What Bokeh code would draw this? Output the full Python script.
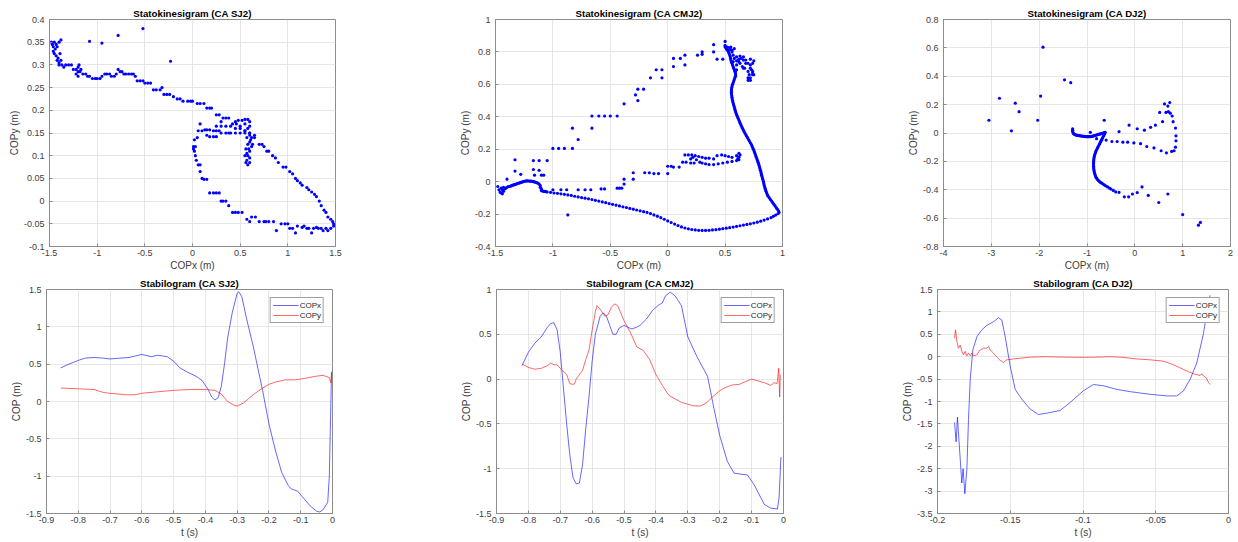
from bokeh.plotting import figure
from bokeh.layouts import column, row
from bokeh.models import Range1d, FixedTicker, Legend, LegendItem
from bokeh.embed import file_html
from bokeh.resources import INLINE

FONT = "Liberation Sans"
BLUE = "#0000ff"
RED = "#ff0000"

# ---------------- data ----------------
SJ2_POINTS = [
    (-1.48, 0.35), (-1.47, 0.345), (-1.46, 0.34), (-1.45, 0.35), (-1.44, 0.335), (-1.46, 0.33), (-1.43, 0.345),
    (-1.42, 0.34), (-1.40, 0.35), (-1.38, 0.355), (-1.45, 0.325), (-1.43, 0.32), (-1.41, 0.315), (-1.39, 0.325),
    (-1.42, 0.31), (-1.40, 0.305), (-1.38, 0.31), (-1.40, 0.30), (-1.37, 0.30), (-1.35, 0.295), (-1.33, 0.30),
    (-1.30, 0.30), (-1.27, 0.30), (-1.25, 0.29), (-1.22, 0.29), (-1.20, 0.295), (-1.19, 0.30), (-1.18, 0.285),
    (-1.20, 0.285), (-1.17, 0.29), (-1.22, 0.28), (-1.15, 0.28), (-1.12, 0.28), (-1.10, 0.275), (-1.08, 0.275),
    (-1.05, 0.27), (-1.02, 0.27), (-1.00, 0.27), (-0.97, 0.27), (-0.95, 0.275), (-0.92, 0.28), (-0.90, 0.28),
    (-0.87, 0.28), (-0.85, 0.275), (-0.82, 0.275), (-0.80, 0.28), (-0.78, 0.29), (-0.76, 0.285), (-0.74, 0.285),
    (-0.72, 0.28), (-0.70, 0.28), (-0.67, 0.28), (-0.64, 0.28), (-0.62, 0.28), (-0.60, 0.275), (-0.58, 0.265),
    (-0.55, 0.265), (-0.52, 0.265), (-0.50, 0.26), (-0.47, 0.26), (-0.44, 0.26), (-0.41, 0.245), (-0.38, 0.245),
    (-0.34, 0.245), (-0.32, 0.25), (-0.30, 0.235), (-0.27, 0.235), (-0.24, 0.235), (-0.20, 0.23), (-0.16, 0.225),
    (-0.13, 0.225), (-0.10, 0.22), (-0.05, 0.22), (-0.02, 0.22), (0.00, 0.22), (0.05, 0.215), (0.08, 0.215),
    (0.12, 0.215), (0.15, 0.205), (0.18, 0.205), (0.20, 0.205), (0.25, 0.19), (0.28, 0.19), (0.32, 0.183),
    (0.35, 0.183), (0.38, 0.183), (0.42, 0.17), (0.46, 0.17), (0.50, 0.165),
    (0.55, 0.155), (0.60, 0.145), (0.65, 0.14), (0.70, 0.125), (0.73, 0.125), (0.75, 0.12), (0.78, 0.11),
    (0.80, 0.11), (0.84, 0.10), (0.87, 0.095), (0.90, 0.085), (0.95, 0.075), (0.98, 0.075), (1.02, 0.065),
    (1.05, 0.06), (1.08, 0.05), (1.10, 0.045), (1.13, 0.04), (1.15, 0.035), (1.20, 0.03), (1.22, 0.025),
    (1.25, 0.02), (1.28, 0.015), (1.30, 0.01), (1.33, 0.0), (1.35, -0.01), (1.38, -0.02), (1.40, -0.025),
    (1.42, -0.035), (1.45, -0.04), (1.47, -0.045), (1.48, -0.05),
    (1.48, -0.055), (1.45, -0.06), (1.42, -0.065), (1.40, -0.06), (1.37, -0.065), (1.35, -0.06), (1.32, -0.06),
    (1.30, -0.058), (1.27, -0.06), (1.25, -0.07), (1.22, -0.06), (1.20, -0.06), (1.17, -0.055), (1.15, -0.058),
    (1.10, -0.055), (1.08, -0.07), (1.05, -0.06), (1.02, -0.06), (1.00, -0.05), (0.97, -0.05), (0.93, -0.05),
    (0.88, -0.065), (0.85, -0.045), (0.80, -0.045), (0.77, -0.045), (0.75, -0.045), (0.70, -0.045), (0.66, -0.035),
    (0.62, -0.035), (0.60, -0.045), (0.57, -0.04), (0.52, -0.025), (0.48, -0.025), (0.45, -0.025), (0.42, -0.025),
    (0.38, -0.01), (0.35, 0.0), (0.32, 0.0), (0.30, 0.0), (0.28, 0.018), (0.25, 0.018), (0.22, 0.018),
    (0.18, 0.018), (0.15, 0.048), (0.12, 0.048), (0.10, 0.05), (0.08, 0.065), (0.08, 0.08), (0.06, 0.08),
    (0.04, 0.09), (0.03, 0.10), (0.02, 0.11), (0.01, 0.115), (0.01, 0.12), (0.03, 0.12), (0.02, 0.135),
    (0.05, 0.14), (0.06, 0.155), (0.10, 0.155), (0.13, 0.157), (0.15, 0.157), (0.18, 0.157), (0.22, 0.155),
    (0.25, 0.155), (0.28, 0.155), (0.30, 0.15), (0.35, 0.15), (0.38, 0.15), (0.40, 0.15), (0.45, 0.15),
    (0.50, 0.15), (0.55, 0.15), (0.60, 0.15), (0.65, 0.145), (0.15, 0.145), (0.18, 0.142), (0.22, 0.142),
    (0.25, 0.142), (0.08, 0.17), (0.25, 0.165), (0.30, 0.165), (0.35, 0.165), (0.40, 0.165), (0.30, 0.175),
    (0.45, 0.175), (0.48, 0.178), (0.52, 0.178), (0.45, 0.16), (0.50, 0.16),
    (0.55, 0.18), (0.58, 0.18), (0.60, 0.175), (0.55, 0.17), (0.60, 0.165), (0.58, 0.16), (0.55, 0.155),
    (0.60, 0.15), (0.62, 0.14), (0.57, 0.14), (0.60, 0.13), (0.58, 0.125), (0.62, 0.12), (0.56, 0.115),
    (0.60, 0.11), (0.58, 0.10), (0.55, 0.10), (0.60, 0.095), (0.57, 0.09), (0.56, 0.085), (0.60, 0.085),
    (0.58, 0.08), (0.63, 0.125), (0.59, 0.115), (0.57, 0.105), (0.61, 0.135),
    (-0.52, 0.38), (-0.78, 0.365), (-0.95, 0.348), (-1.08, 0.352), (-0.23, 0.308), (-1.20, 0.275),
]

CMJ2_POINTS = [
    (-1.48, -0.03), (-1.47, -0.05), (-1.46, -0.065), (-1.45, -0.07), (-1.44, -0.075), (-1.45, -0.04),
    (-1.44, -0.05), (-1.43, -0.06), (-1.43, -0.035), (-1.42, -0.045), (-1.41, -0.04), (-1.40, -0.035),
    (-1.39, -0.03), (-1.38, -0.03), (-1.37, -0.028), (-1.36, -0.025), (-1.35, -0.022), (-1.34, -0.02),
    (-1.33, -0.017), (-1.32, -0.015), (-1.31, -0.012), (-1.30, -0.01), (-1.29, -0.008), (-1.28, -0.005),
    (-1.27, -0.003), (-1.26, 0.0), (-1.25, 0.002), (-1.24, 0.003), (-1.23, 0.005), (-1.22, 0.005),
    (-1.21, 0.004), (-1.20, 0.003), (-1.19, 0.003), (-1.18, 0.002), (-1.17, 0.0), (-1.16, -0.002),
    (-1.15, -0.004), (-1.14, -0.006), (-1.13, -0.01), (-1.12, -0.015), (-1.11, -0.025), (-1.11, -0.035),
    (-1.10, -0.045), (-1.10, -0.055), (-1.09, -0.058), (-1.08, -0.06), (-1.07, -0.06), (-1.06, -0.062),
    (-1.05, -0.064), (-1.02, -0.066), (-0.99, -0.07), (-0.96, -0.072), (-0.93, -0.075), (-0.90, -0.078),
    (-0.87, -0.082), (-0.84, -0.085), (-0.81, -0.09), (-0.78, -0.094), (-0.75, -0.098), (-0.72, -0.102),
    (-0.69, -0.106), (-0.66, -0.11), (-0.63, -0.115), (-0.60, -0.12), (-0.57, -0.125), (-0.54, -0.13),
    (-0.51, -0.135), (-0.48, -0.14), (-0.45, -0.145), (-0.42, -0.15), (-0.39, -0.155), (-0.36, -0.16),
    (-0.33, -0.165), (-0.30, -0.17), (-0.27, -0.175), (-0.24, -0.18), (-0.21, -0.185), (-0.18, -0.19),
    (-0.15, -0.197), (-0.12, -0.205), (-0.09, -0.213), (-0.06, -0.222), (-0.03, -0.232), (0.00, -0.242),
    (0.03, -0.252), (0.06, -0.262), (0.09, -0.271), (0.12, -0.279), (0.15, -0.286), (0.18, -0.291),
    (0.21, -0.295), (0.24, -0.298), (0.27, -0.30), (0.30, -0.301), (0.33, -0.301), (0.36, -0.30),
    (0.39, -0.298), (0.42, -0.296), (0.45, -0.293), (0.48, -0.29), (0.51, -0.287), (0.54, -0.284),
    (0.57, -0.28), (0.60, -0.276), (0.63, -0.272), (0.66, -0.268), (0.69, -0.264), (0.72, -0.26),
    (0.75, -0.255), (0.78, -0.25), (0.81, -0.244), (0.84, -0.237), (0.87, -0.23), (0.90, -0.222),
    (0.92, -0.214), (0.94, -0.206), (0.96, -0.198), (0.97, -0.19), (0.965, -0.18), (0.955, -0.17),
    (0.945, -0.16), (0.935, -0.15), (0.925, -0.14), (0.915, -0.13), (0.905, -0.12), (0.895, -0.11),
    (0.885, -0.10), (0.875, -0.09), (0.868, -0.08), (0.862, -0.07), (0.857, -0.06), (0.852, -0.05),
    (0.848, -0.04), (0.844, -0.03), (0.84, -0.02), (0.837, -0.01), (0.834, 0.0), (0.83, 0.01),
    (0.826, 0.02), (0.822, 0.03), (0.818, 0.04), (0.815, 0.05), (0.812, 0.06), (0.808, 0.07),
    (0.804, 0.08), (0.80, 0.09), (0.796, 0.10), (0.792, 0.11), (0.787, 0.12), (0.782, 0.13),
    (0.777, 0.14), (0.772, 0.15), (0.767, 0.16), (0.762, 0.17), (0.757, 0.18), (0.752, 0.19),
    (0.746, 0.20), (0.74, 0.21), (0.734, 0.22), (0.728, 0.23), (0.72, 0.24), (0.712, 0.25),
    (0.704, 0.26), (0.696, 0.27), (0.688, 0.28), (0.68, 0.29), (0.672, 0.30), (0.665, 0.31),
    (0.658, 0.32), (0.651, 0.33), (0.644, 0.34), (0.638, 0.35), (0.632, 0.36), (0.626, 0.37),
    (0.62, 0.38), (0.614, 0.39), (0.608, 0.40), (0.602, 0.41), (0.597, 0.42), (0.592, 0.43),
    (0.588, 0.44), (0.584, 0.45), (0.58, 0.46), (0.576, 0.47), (0.572, 0.48), (0.568, 0.49),
    (0.565, 0.50), (0.562, 0.51), (0.56, 0.52), (0.558, 0.53), (0.556, 0.54), (0.555, 0.55),
    (0.555, 0.56), (0.556, 0.57), (0.558, 0.58), (0.561, 0.59), (0.565, 0.60), (0.57, 0.61),
    (0.575, 0.62), (0.58, 0.63), (0.585, 0.64), (0.59, 0.65), (0.592, 0.66), (0.59, 0.67),
    (0.585, 0.68), (0.58, 0.69), (0.575, 0.70), (0.57, 0.71), (0.565, 0.72), (0.56, 0.73),
    (0.555, 0.74), (0.55, 0.75), (0.548, 0.76), (0.545, 0.77), (0.54, 0.78), (0.535, 0.79),
    (0.53, 0.80), (0.52, 0.81), (0.51, 0.82), (0.50, 0.83), (0.52, 0.83), (0.54, 0.825), (0.55, 0.815),
    (0.56, 0.81), (0.50, 0.865), (0.50, 0.84), (0.53, 0.81), (0.56, 0.80), (0.57, 0.78), (0.58, 0.76),
    (0.60, 0.745), (0.57, 0.74), (0.60, 0.72), (0.62, 0.755), (0.62, 0.74), (0.63, 0.73), (0.60, 0.77),
    (0.64, 0.76), (0.66, 0.75), (0.68, 0.75), (0.70, 0.73), (0.72, 0.72), (0.75, 0.745), (0.73, 0.69),
    (0.75, 0.66), (0.74, 0.68), (0.71, 0.66), (0.70, 0.64), (0.72, 0.625), (0.67, 0.70), (0.65, 0.71),
    (0.60, 0.69), (0.59, 0.68),
    (-1.33, 0.135), (-1.33, 0.065), (-1.28, 0.045), (-1.40, 0.015), (-1.17, 0.13), (-1.12, 0.13),
    (-1.05, 0.13), (-1.17, 0.075), (-1.12, 0.07), (-1.10, 0.04), (-1.16, 0.04), (-1.08, 0.04),
    (-1.00, 0.205), (-0.95, 0.205), (-0.90, 0.205), (-0.83, 0.205), (-0.83, 0.33), (-0.78, 0.26),
    (-0.66, 0.33), (-0.66, 0.405), (-0.60, 0.405), (-0.55, 0.405), (-0.50, 0.405), (-0.44, 0.405),
    (-0.38, 0.48), (-0.28, 0.535), (-0.26, 0.50), (-0.26, 0.57), (-0.21, 0.57), (-0.15, 0.64),
    (-0.10, 0.69), (-0.05, 0.69), (-0.05, 0.64), (0.05, 0.71), (0.05, 0.76), (0.11, 0.76),
    (0.15, 0.78), (0.15, 0.72), (0.26, 0.78), (0.30, 0.785), (0.30, 0.80), (0.40, 0.80),
    (0.40, 0.845), (0.43, 0.755), (0.48, 0.755), (0.55, 0.83), (0.58, 0.82), (0.63, 0.775),
    (0.66, 0.77), (0.72, 0.755), (0.74, 0.73), (0.68, 0.73), (0.72, 0.70), (0.66, 0.70),
    (0.70, 0.68), (0.74, 0.67), (0.74, 0.66), (0.72, 0.64), (0.70, 0.625),
    (-1.10, -0.05), (-1.00, -0.05), (-0.93, -0.05), (-0.88, -0.05), (-0.78, -0.05), (-0.72, -0.05),
    (-0.67, -0.05), (-0.58, -0.045), (-0.55, -0.045), (-0.44, -0.04), (-0.42, -0.04), (-0.40, -0.04),
    (-0.38, 0.015), (-0.38, -0.015), (-0.30, 0.055), (-0.30, 0.015), (-0.20, 0.055), (-0.16, 0.055),
    (-0.12, 0.05), (-0.08, 0.05), (0.00, 0.05), (0.00, 0.095), (0.03, 0.095), (0.05, 0.09),
    (0.10, 0.09), (0.13, 0.12), (0.16, 0.12), (0.20, 0.115), (0.23, 0.115), (-0.87, -0.205),
    (0.15, 0.165), (0.18, 0.165), (0.21, 0.165), (0.24, 0.16), (0.27, 0.155), (0.30, 0.15),
    (0.33, 0.145), (0.36, 0.145), (0.40, 0.14), (0.43, 0.16), (0.47, 0.165), (0.50, 0.16),
    (0.53, 0.155), (0.56, 0.15), (0.60, 0.16), (0.62, 0.175), (0.63, 0.165), (0.62, 0.15),
    (0.61, 0.14), (0.28, 0.12), (0.30, 0.115), (0.33, 0.11), (0.36, 0.105), (0.40, 0.105),
    (0.44, 0.11), (0.48, 0.115), (0.52, 0.12), (0.56, 0.125), (0.60, 0.13), (0.62, 0.135),
    (0.25, 0.135), (0.20, 0.14), (0.22, 0.15),
]

DJ2_POINTS = [
    (-3.05, 0.09), (-2.83, 0.245), (-2.58, 0.015), (-2.50, 0.21), (-2.42, 0.15), (-2.03, 0.09),
    (-1.97, 0.26), (-1.92, 0.605), (-1.47, 0.375), (-1.34, 0.355), (-0.64, 0.09), (-0.93, 0.005),
    (-0.33, 0.01), (-0.12, 0.055), (0.05, 0.03), (0.20, 0.02), (0.33, 0.04), (0.43, 0.055),
    (0.52, 0.145), (0.58, 0.08), (0.62, 0.205), (0.65, 0.145), (0.69, 0.19), (0.70, 0.15),
    (0.73, 0.215), (0.74, 0.14), (0.78, 0.12), (0.80, 0.08), (0.85, 0.035), (0.86, -0.02),
    (0.86, -0.055), (0.85, -0.10), (0.82, -0.125), (0.77, -0.13), (0.66, -0.14), (0.55, -0.125),
    (0.40, -0.105), (0.25, -0.095), (0.12, -0.075), (-0.02, -0.07), (-0.15, -0.065), (-0.25, -0.065),
    (-0.37, -0.06), (-0.48, -0.06), (-0.60, -0.05), (-0.70, -0.05), (-0.80, -0.04),
    (-1.30, 0.03), (-1.30, 0.02), (-1.30, 0.01), (-1.29, 0.0), (-1.28, -0.005), (-1.26, -0.01),
    (-1.24, -0.013), (-1.22, -0.015), (-1.20, -0.017), (-1.18, -0.018), (-1.16, -0.019), (-1.14, -0.02),
    (-1.12, -0.021), (-1.10, -0.022), (-1.08, -0.023), (-1.06, -0.024), (-1.04, -0.025), (-1.02, -0.025),
    (-1.00, -0.026), (-0.98, -0.026), (-0.96, -0.026), (-0.94, -0.025), (-0.92, -0.025), (-0.90, -0.024),
    (-0.88, -0.022), (-0.86, -0.02), (-0.84, -0.018), (-0.82, -0.016), (-0.80, -0.014), (-0.78, -0.012),
    (-0.76, -0.01), (-0.74, -0.008), (-0.72, -0.006), (-0.70, -0.004), (-0.68, -0.002), (-0.66, 0.0),
    (-0.64, 0.003), (-0.62, 0.005), (-0.63, -0.005), (-0.645, -0.015), (-0.66, -0.025), (-0.675, -0.035),
    (-0.69, -0.045), (-0.705, -0.055), (-0.72, -0.065), (-0.735, -0.075), (-0.75, -0.085), (-0.765, -0.095),
    (-0.78, -0.105), (-0.795, -0.115), (-0.81, -0.125), (-0.82, -0.135), (-0.83, -0.145), (-0.84, -0.155),
    (-0.848, -0.165), (-0.853, -0.175), (-0.857, -0.185), (-0.86, -0.195), (-0.862, -0.205), (-0.863, -0.215),
    (-0.863, -0.225), (-0.862, -0.235), (-0.86, -0.245), (-0.857, -0.255), (-0.853, -0.265), (-0.848, -0.275),
    (-0.84, -0.285), (-0.83, -0.295), (-0.82, -0.305), (-0.81, -0.313), (-0.795, -0.32), (-0.78, -0.328),
    (-0.76, -0.335), (-0.74, -0.342), (-0.72, -0.348), (-0.70, -0.352), (-0.67, -0.358), (-0.64, -0.365),
    (-0.61, -0.372), (-0.57, -0.38), (-0.53, -0.388), (-0.50, -0.395), (-0.45, -0.405), (-0.40, -0.415),
    (-0.33, -0.418), (-0.22, -0.45), (-0.13, -0.45), (-0.05, -0.43), (0.05, -0.42), (0.15, -0.38),
    (0.28, -0.44), (0.50, -0.49), (0.69, -0.43), (1.00, -0.575), (1.33, -0.65), (1.37, -0.63),
]

SJ2_T_X = [-0.855, -0.83, -0.80, -0.78, -0.75, -0.72, -0.70, -0.67, -0.64, -0.62, -0.60, -0.59, -0.57, -0.55,
           -0.52, -0.50, -0.48, -0.46, -0.43, -0.41, -0.39, -0.38, -0.37, -0.36, -0.35, -0.34, -0.33, -0.315,
           -0.30, -0.295, -0.285, -0.27, -0.25, -0.24, -0.22, -0.20, -0.18, -0.16, -0.14, -0.13, -0.11, -0.09,
           -0.07, -0.05, -0.04, -0.03, -0.015, -0.01, -0.006, -0.003]
SJ2_COPX = [0.45, 0.50, 0.55, 0.58, 0.59, 0.58, 0.57, 0.58, 0.59, 0.61, 0.63, 0.62, 0.60, 0.62,
            0.60, 0.54, 0.45, 0.40, 0.34, 0.28, 0.15, 0.06, 0.02, 0.05, 0.20, 0.50, 0.85, 1.20,
            1.45, 1.47, 1.40, 1.10, 0.75, 0.55, 0.15, -0.30, -0.65, -0.95, -1.12, -1.17, -1.20, -1.30,
            -1.40, -1.47, -1.48, -1.45, -1.35, -1.00, -0.20, 0.40]
SJ2_T_Y = [-0.855, -0.80, -0.75, -0.72, -0.70, -0.65, -0.62, -0.60, -0.55, -0.50, -0.45, -0.40, -0.37, -0.35,
           -0.33, -0.31, -0.30, -0.28, -0.25, -0.22, -0.20, -0.18, -0.15, -0.12, -0.10, -0.05, -0.03, -0.01,
           -0.005, -0.003]
SJ2_COPY = [0.18, 0.17, 0.16, 0.12, 0.11, 0.09, 0.09, 0.11, 0.13, 0.15, 0.16, 0.16, 0.15, 0.10,
            0.00, -0.05, -0.06, -0.02, 0.09, 0.18, 0.23, 0.26, 0.29, 0.29, 0.30, 0.34, 0.35, 0.32,
            0.25, 0.38]

CMJ2_T_X = [-0.82, -0.80, -0.78, -0.76, -0.74, -0.73, -0.72, -0.71, -0.70, -0.69, -0.68, -0.67, -0.66, -0.65,
            -0.64, -0.63, -0.62, -0.61, -0.60, -0.59, -0.575, -0.565, -0.555, -0.545, -0.535, -0.525, -0.515,
            -0.50, -0.49, -0.475, -0.46, -0.45, -0.43, -0.41, -0.39, -0.38, -0.37, -0.355, -0.34, -0.32, -0.30,
            -0.27, -0.238, -0.218, -0.20, -0.176, -0.155, -0.113, -0.092, -0.06, -0.04, -0.019, -0.014, -0.008]
CMJ2_COPX = [0.15, 0.30, 0.40, 0.47, 0.58, 0.62, 0.63, 0.55, 0.30, -0.10, -0.50, -0.85, -1.10, -1.17,
             -1.16, -0.95, -0.55, -0.20, 0.20, 0.50, 0.70, 0.74, 0.70, 0.60, 0.50, 0.50, 0.57,
             0.60, 0.58, 0.56, 0.58, 0.60, 0.67, 0.77, 0.83, 0.85, 0.93, 0.97, 0.93, 0.82, 0.47,
             0.24, 0.03, -0.33, -0.63, -0.92, -1.05, -1.07, -1.18, -1.40, -1.44, -1.45, -1.33, -0.87]
CMJ2_T_Y = [-0.82, -0.80, -0.78, -0.76, -0.74, -0.73, -0.72, -0.71, -0.70, -0.68, -0.67, -0.66, -0.655, -0.65,
            -0.64, -0.63, -0.62, -0.61, -0.60, -0.59, -0.585, -0.575, -0.56, -0.55, -0.54, -0.53, -0.52,
            -0.50, -0.48, -0.46, -0.44, -0.42, -0.40, -0.38, -0.36, -0.34, -0.32, -0.30, -0.28, -0.26,
            -0.24, -0.22, -0.20, -0.18, -0.16, -0.14, -0.12, -0.10, -0.08, -0.06, -0.04, -0.03, -0.02,
            -0.015, -0.012, -0.01]
CMJ2_COPY = [0.17, 0.13, 0.11, 0.12, 0.15, 0.18, 0.16, 0.16, 0.12, 0.05, -0.05, -0.06, -0.05, 0.00,
             0.05, 0.10, 0.22, 0.32, 0.55, 0.75, 0.82, 0.78, 0.70, 0.72, 0.80, 0.84, 0.82,
             0.65, 0.52, 0.36, 0.32, 0.22, 0.05, -0.07, -0.18, -0.22, -0.26, -0.28, -0.30, -0.30,
             -0.26, -0.19, -0.13, -0.09, -0.065, -0.06, -0.03, 0.00, -0.02, -0.04, -0.07, -0.04, -0.05,
             0.12, -0.20, 0.05]

DJ2_T_X = [-0.1883, -0.1872, -0.1863, -0.1833, -0.1824, -0.1812, -0.1798, -0.1787, -0.1775, -0.1757,
           -0.1729, -0.1695, -0.1661, -0.1615, -0.1581, -0.1558, -0.1535, -0.1501, -0.1466, -0.1420,
           -0.1363, -0.1306, -0.1249, -0.1157, -0.1088, -0.0997, -0.0928, -0.0859, -0.0767, -0.0676,
           -0.0538, -0.0424, -0.0355, -0.0309, -0.0263, -0.0218, -0.0172, -0.0137, -0.0126]
DJ2_COPX = [-1.47, -1.90, -1.35, -2.82, -2.50, -3.06, -2.50, -1.40, -0.50, 0.15,
            0.45, 0.60, 0.70, 0.78, 0.87, 0.82, 0.45, -0.20, -0.73, -0.95,
            -1.17, -1.29, -1.26, -1.20, -1.02, -0.76, -0.62, -0.65, -0.73, -0.78,
            -0.84, -0.875, -0.875, -0.76, -0.50, -0.14, 0.52, 1.22, 1.37]
DJ2_T_Y = [-0.1883, -0.1876, -0.1867, -0.1856, -0.1844, -0.1833, -0.1821, -0.1810, -0.1798, -0.1787,
           -0.1775, -0.1764, -0.1753, -0.1730, -0.1707, -0.1684, -0.1661, -0.1649, -0.1638, -0.1615,
           -0.1592, -0.1570, -0.1547, -0.1524, -0.1478, -0.1363, -0.1249, -0.1134, -0.0997, -0.0905,
           -0.0813, -0.0722, -0.0630, -0.0538, -0.0447, -0.0378, -0.0332, -0.0286, -0.0241, -0.0195,
           -0.0183, -0.0172, -0.0153, -0.0137, -0.0126]
DJ2_COPY = [0.41, 0.60, 0.34, 0.19, 0.26, 0.12, 0.04, 0.12, 0.02, 0.08,
            0.02, 0.08, 0.02, 0.04, 0.15, 0.19, 0.19, 0.23, 0.15, 0.08,
            -0.01, -0.08, -0.13, -0.07, -0.05, -0.01, 0.00, -0.01, -0.015, -0.01,
            0.00, -0.015, -0.05, -0.07, -0.10, -0.18, -0.25, -0.32, -0.38, -0.42,
            -0.38, -0.43, -0.47, -0.58, -0.62]

# axis ticks (values and labels)
SJ2_XTICKS = [-1.5, -1.0, -0.5, 0.0, 0.5, 1.0, 1.5]
SJ2_XLABELS = ["-1.5", "-1", "-0.5", "0", "0.5", "1", "1.5"]
SJ2_YTICKS = [-0.1, -0.05, 0.0, 0.05, 0.1, 0.15, 0.2, 0.25, 0.3, 0.35, 0.4]
SJ2_YLABELS = ["-0.1", "-0.05", "0", "0.05", "0.1", "0.15", "0.2", "0.25", "0.3", "0.35", "0.4"]
CMJ2_XTICKS = [-1.5, -1.0, -0.5, 0.0, 0.5, 1.0]
CMJ2_XLABELS = ["-1.5", "-1", "-0.5", "0", "0.5", "1"]
CMJ2_YTICKS = [-0.4, -0.2, 0.0, 0.2, 0.4, 0.6, 0.8, 1.0]
CMJ2_YLABELS = ["-0.4", "-0.2", "0", "0.2", "0.4", "0.6", "0.8", "1"]
DJ2_XTICKS = [-4, -3, -2, -1, 0, 1, 2]
DJ2_XLABELS = ["-4", "-3", "-2", "-1", "0", "1", "2"]
DJ2_YTICKS = [-0.8, -0.6, -0.4, -0.2, 0.0, 0.2, 0.4, 0.6, 0.8]
DJ2_YLABELS = ["-0.8", "-0.6", "-0.4", "-0.2", "0", "0.2", "0.4", "0.6", "0.8"]
T9_TICKS = [-0.9, -0.8, -0.7, -0.6, -0.5, -0.4, -0.3, -0.2, -0.1, 0.0]
T9_LABELS = ["-0.9", "-0.8", "-0.7", "-0.6", "-0.5", "-0.4", "-0.3", "-0.2", "-0.1", "0"]
STAB_SJ2_YTICKS = [-1.5, -1.0, -0.5, 0.0, 0.5, 1.0, 1.5]
STAB_SJ2_YLABELS = ["-1.5", "-1", "-0.5", "0", "0.5", "1", "1.5"]
STAB_CMJ2_YTICKS = [-1.5, -1.0, -0.5, 0.0, 0.5, 1.0]
STAB_CMJ2_YLABELS = ["-1.5", "-1", "-0.5", "0", "0.5", "1"]
T2_TICKS = [-0.2, -0.15, -0.1, -0.05, 0.0]
T2_LABELS = ["-0.2", "-0.15", "-0.1", "-0.05", "0"]
STAB_DJ2_YTICKS = [-3.5, -3.0, -2.5, -2.0, -1.5, -1.0, -0.5, 0.0, 0.5, 1.0, 1.5]
STAB_DJ2_YLABELS = ["-3.5", "-3", "-2.5", "-2", "-1.5", "-1", "-0.5", "0", "0.5", "1", "1.5"]


def make_fig(title, width, height, bl, br, bt, bb, xr, yr, xt, xl, yt, yl, xlabel, ylabel):
    p = figure(width=width, height=height, output_backend="svg", toolbar_location=None,
               x_range=Range1d(*xr), y_range=Range1d(*yr),
               min_border_left=bl, min_border_right=br, min_border_top=bt, min_border_bottom=bb,
               background_fill_color="white", border_fill_color="white")
    p.title.text = title
    p.title.text_font = FONT
    p.title.text_font_size = "9.7px"
    p.title.text_font_style = "bold"
    p.title.text_color = "#000000"
    p.title.align = "center"
    p.title.standoff = 1
    p.outline_line_color = "#8c8c8c"
    p.outline_line_width = 1
    for ax, ticks, labels, lab, st in ((p.xaxis[0], xt, xl, xlabel, 3), (p.yaxis[0], yt, yl, ylabel, 5)):
        ax.ticker = FixedTicker(ticks=ticks)
        ax.major_label_overrides = {float(t): s for t, s in zip(ticks, labels)}
        ax.axis_label = lab
        ax.axis_label_text_font = FONT
        ax.axis_label_text_font_size = "10px"
        ax.axis_label_text_font_style = "normal"
        ax.axis_label_text_color = "#404040"
        ax.axis_label_standoff = 1
        ax.major_label_text_font = FONT
        ax.major_label_text_font_size = "9px"
        ax.major_label_text_color = "#404040"
        ax.major_label_standoff = st
        ax.axis_line_color = "#8c8c8c"
        ax.major_tick_line_color = "#8c8c8c"
        ax.major_tick_in = 3
        ax.major_tick_out = 0
        ax.minor_tick_line_color = None
    p.xgrid.grid_line_color = "#e6e6e6"
    p.ygrid.grid_line_color = "#e6e6e6"
    p.xgrid.ticker = FixedTicker(ticks=xt)
    p.ygrid.ticker = FixedTicker(ticks=yt)
    return p


def add_points(p, pts):
    xs = [a for a, b in pts]
    ys = [b for a, b in pts]
    p.scatter(xs, ys, marker="circle", size=3.2, fill_color=BLUE, line_color=None)


def add_lines(p, tx, vx, ty, vy):
    r1 = p.line(tx, vx, line_color=BLUE, line_width=1, line_alpha=0.6)
    r2 = p.line(ty, vy, line_color=RED, line_width=1, line_alpha=0.6)
    leg = Legend(items=[LegendItem(label="COPx", renderers=[r1]), LegendItem(label="COPy", renderers=[r2])],
                 location="top_right", margin=8, padding=2, spacing=0,
                 glyph_width=26, glyph_height=10, label_height=10, label_standoff=1,
                 label_text_font=FONT, label_text_font_size="8px", label_text_color="#262626",
                 border_line_color="#404040", border_line_width=1, background_fill_alpha=1.0)
    p.add_layout(leg)


H1, H2 = 274, 267
p1 = make_fig("Statokinesigram (CA SJ2)", 420, H1, 49, 85, 19, 28, (-1.5, 1.5), (-0.1, 0.4),
              SJ2_XTICKS, SJ2_XLABELS, SJ2_YTICKS, SJ2_YLABELS, "COPx (m)", "COPy (m)")
add_points(p1, SJ2_POINTS)
p2 = make_fig("Statokinesigram (CA CMJ2)", 440, H1, 75, 78, 19, 28, (-1.5, 1.0), (-0.4, 1.0),
              CMJ2_XTICKS, CMJ2_XLABELS, CMJ2_YTICKS, CMJ2_YLABELS, "COPx (m)", "COPy (m)")
add_points(p2, CMJ2_POINTS)
p3 = make_fig("Statokinesigram (CA DJ2)", 376, H1, 83, 6, 19, 28, (-4, 2), (-0.8, 0.8),
              DJ2_XTICKS, DJ2_XLABELS, DJ2_YTICKS, DJ2_YLABELS, "COPx (m)", "COPy (m)")
add_points(p3, DJ2_POINTS)

p4 = make_fig("Stabilogram (CA SJ2)", 420, H2, 46, 88, 15, 28, (-0.9, 0.0), (-1.5, 1.5),
              T9_TICKS, T9_LABELS, STAB_SJ2_YTICKS, STAB_SJ2_YLABELS, "t (s)", "COP (m)")
add_lines(p4, SJ2_T_X, SJ2_COPX, SJ2_T_Y, SJ2_COPY)
p5 = make_fig("Stabilogram (CA CMJ2)", 440, H2, 76, 77, 15, 28, (-0.9, 0.0), (-1.5, 1.0),
              T9_TICKS, T9_LABELS, STAB_CMJ2_YTICKS, STAB_CMJ2_YLABELS, "t (s)", "COP (m)")
add_lines(p5, CMJ2_T_X, CMJ2_COPX, CMJ2_T_Y, CMJ2_COPY)
p6 = make_fig("Stabilogram (CA DJ2)", 376, H2, 77, 8, 15, 28, (-0.2, 0.0), (-3.5, 1.5),
              T2_TICKS, T2_LABELS, STAB_DJ2_YTICKS, STAB_DJ2_YLABELS, "t (s)", "COP (m)")
add_lines(p6, DJ2_T_X, DJ2_COPX, DJ2_T_Y, DJ2_COPY)

layout = column(row(p1, p2, p3), row(p4, p5, p6))
open("out.html", "w").write(file_html(layout, INLINE))
